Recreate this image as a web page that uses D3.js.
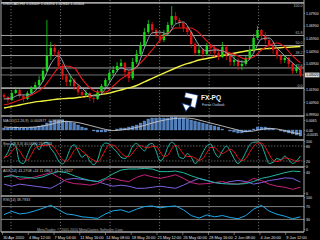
<!DOCTYPE html>
<html>
<head>
<meta charset="utf-8">
<script src="https://cdn.jsdelivr.net/npm/d3@7"></script>
<style>
  html, body { margin: 0; padding: 0; background: #000; }
  svg { display: block; font-family: "Liberation Sans", sans-serif; }
</style>
</head>
<body>
<svg id="chart"></svg>
<script>
// USDCAD H4 bars, oldest first (open = previous close)
var firstOpen = 1.0145;
var closes = [1.0129,1.0105,1.0160,1.0184,1.0137,1.0113,1.0160,1.0200,1.0223,1.0263,
  1.0334,1.0452,1.0515,1.0483,1.0373,1.0294,1.0247,1.0263,1.0215,1.0168,
  1.0145,1.0160,1.0121,1.0113,1.0168,1.0215,1.0263,1.0318,1.0341,1.0373,
  1.0397,1.0326,1.0278,1.0404,1.0467,1.0538,1.0640,1.0703,1.0656,1.0617,
  1.0577,1.0625,1.0696,1.0766,1.0735,1.0711,1.0672,1.0640,1.0546,1.0475,
  1.0499,1.0467,1.0530,1.0515,1.0475,1.0444,1.0522,1.0459,1.0404,1.0420,
  1.0373,1.0389,1.0436,1.0499,1.0593,1.0656,1.0609,1.0577,1.0530,1.0499,
  1.0452,1.0420,1.0436,1.0389,1.0334,1.0357,1.0302];
var highs = [1.0160,1.0137,1.0184,1.0208,1.0192,1.0145,1.0176,1.0215,1.0247,1.0294,
  1.0357,1.0735,1.0562,1.0546,1.0499,1.0389,1.0310,1.0294,1.0278,1.0231,
  1.0184,1.0184,1.0168,1.0145,1.0184,1.0231,1.0278,1.0341,1.0373,1.0404,
  1.0428,1.0404,1.0341,1.0436,1.0499,1.0562,1.0672,1.0735,1.0719,1.0672,
  1.0640,1.0656,1.0719,1.0845,1.0798,1.0751,1.0719,1.0688,1.0656,1.0562,
  1.0530,1.0515,1.0554,1.0546,1.0530,1.0499,1.0562,1.0538,1.0475,1.0452,
  1.0436,1.0420,1.0452,1.0530,1.0625,1.0688,1.0664,1.0640,1.0593,1.0562,
  1.0515,1.0467,1.0459,1.0444,1.0404,1.0381,1.0373];
var lows = [1.0105,1.0082,1.0097,1.0153,1.0121,1.0090,1.0105,1.0153,1.0184,1.0208,
  1.0247,1.0326,1.0420,1.0452,1.0357,1.0263,1.0215,1.0215,1.0184,1.0145,
  1.0121,1.0129,1.0097,1.0082,1.0105,1.0160,1.0200,1.0247,1.0294,1.0326,
  1.0357,1.0294,1.0247,1.0263,1.0389,1.0452,1.0522,1.0625,1.0625,1.0593,
  1.0554,1.0562,1.0609,1.0672,1.0703,1.0680,1.0640,1.0609,1.0515,1.0452,
  1.0452,1.0436,1.0452,1.0467,1.0444,1.0420,1.0436,1.0420,1.0373,1.0373,
  1.0341,1.0341,1.0373,1.0420,1.0483,1.0577,1.0577,1.0546,1.0499,1.0467,
  1.0428,1.0389,1.0397,1.0357,1.0310,1.0318,1.0286];

// moving averages, one value every 2 bars
var maFast = [1.0113,1.0121,1.0145,1.0145,1.0176,1.0255,1.0389,1.0452,1.0349,1.0255,
  1.0200,1.0145,1.0137,1.0192,1.0286,1.0357,1.0341,1.0365,1.0515,1.0633,
  1.0640,1.0625,1.0703,1.0719,1.0640,1.0538,1.0491,1.0499,1.0491,1.0459,
  1.0412,1.0404,1.0475,1.0585,1.0593,1.0515,1.0452,1.0397,1.0341];
var maMid = [1.0066,1.0082,1.0105,1.0129,1.0160,1.0200,1.0278,1.0357,1.0373,1.0357,
  1.0271,1.0200,1.0168,1.0168,1.0215,1.0271,1.0310,1.0365,1.0428,1.0499,
  1.0577,1.0633,1.0672,1.0672,1.0672,1.0633,1.0570,1.0515,1.0491,1.0475,
  1.0452,1.0428,1.0444,1.0499,1.0538,1.0554,1.0522,1.0452,1.0397];
var maSlow = [1.0042,1.0054,1.0066,1.0078,1.0090,1.0097,1.0105,1.0113,1.0117,1.0121,
  1.0129,1.0137,1.0145,1.0153,1.0168,1.0184,1.0200,1.0219,1.0247,1.0275,
  1.0302,1.0330,1.0357,1.0381,1.0400,1.0420,1.0432,1.0444,1.0456,1.0467,
  1.0479,1.0491,1.0499,1.0507,1.0511,1.0515,1.0519,1.0522,1.0526];

// fibonacci retracement
var fibLevels = [100, 61.8, 50, 38.2, 23.6, 0];
var fibHigh = 1.0869, fibLow = 1.0199;
var lastPrice = 1.0302;

// MACD histogram per bar, signal every 2 bars
var macdMain = [0.0010,0.0010,0.0010,0.0015,0.0010,0.0010,0.0010,0.0015,0.0015,0.0020,
  0.0025,0.0035,0.0045,0.0050,0.0050,0.0050,0.0045,0.0040,0.0035,0.0025,
  0.0015,0.0010,0.0000,-0.0005,-0.0010,-0.0010,-0.0010,-0.0005,0.0000,0.0005,
  0.0010,0.0010,0.0015,0.0020,0.0025,0.0035,0.0045,0.0055,0.0060,0.0060,
  0.0060,0.0060,0.0060,0.0065,0.0065,0.0060,0.0060,0.0055,0.0050,0.0045,
  0.0040,0.0035,0.0030,0.0025,0.0020,0.0015,0.0005,0.0000,-0.0005,-0.0010,
  -0.0015,-0.0015,-0.0010,-0.0005,0.0005,0.0015,0.0015,0.0015,0.0010,0.0005,
  0.0000,-0.0005,-0.0010,-0.0015,-0.0020,-0.0025,-0.0030];
var macdSignal = [0.0015,0.0013,0.0013,0.0013,0.0015,0.0020,0.0028,0.0038,0.0043,0.0040,
  0.0033,0.0023,0.0013,0.0003,-0.0003,0.0000,0.0005,0.0013,0.0023,0.0035,
  0.0045,0.0053,0.0058,0.0060,0.0058,0.0050,0.0040,0.0030,0.0020,0.0010,
  0.0000,-0.0008,-0.0005,0.0003,0.0008,0.0005,-0.0003,-0.0013,-0.0020];

// stochastic per bar
var stochMain = [30,55,88,80,15,10,45,80,92,65, 90,95,70,50,20,8,30,70,85,60,
  35,45,20,5,25,75,92,88,70,55, 35,30,45,80,90,75,60,85,90,60,
  20,35,75,95,80,35,30,50,35,10, 25,55,80,88,55,35,60,80,60,30,
  10,25,55,85,95,96,85,45,10,15, 30,25,40,25,10,20,40];
var stochSignal = [35,40,58,74,61,35,23,45,72,79, 82,83,85,72,47,26,19,36,62,72,
  60,47,33,23,17,35,64,85,83,71, 53,40,37,52,72,82,75,73,78,78,
  57,38,43,68,83,70,48,38,38,32, 23,30,53,74,74,59,50,58,67,57,
  33,22,30,55,78,92,92,75,47,23, 18,23,32,30,25,18,23];

// ADX, +DI, -DI every 2 bars
var adx = [31,33,31,30,28,31,37,41,39,33, 28,24,22,28,37,44,46,46,47,46,
  41,41,42,39,33,28,24,20,18,17, 17,18,22,28,31,35,39,42,41];
var plusDi = [31,35,26,28,31,35,39,30,22,18, 17,15,18,26,28,24,22,30,35,31,
  28,31,35,28,20,17,18,20,22,18, 17,20,28,24,17,13,11,7,11];
var minusDi = [17,13,17,15,13,11,9,17,26,28, 26,24,22,17,13,15,13,9,9,11,
  13,11,9,15,22,28,24,20,18,22, 24,22,17,20,24,26,29,28,21];

// RSI every 2 bars
var rsi = [45,55,47,50,57,65,74,60,47,44, 38,36,33,47,57,60,52,62,70,72,
  66,70,72,60,42,34,44,38,42,36, 32,42,62,74,56,46,40,32,38];

var priceTicks = [1.0790, 1.0690, 1.0590, 1.0490, 1.0390, 1.0190, 1.0090, 0.9990];
var timeLabels = ["30 Apr 2010", "4 May 12:00", "7 May 04:00", "11 May 16:00", "14 May 08:00",
  "18 May 20:00", "21 May 12:00", "26 May 00:00", "28 May 16:00", "2 Jun 08:00",
  "4 Jun 20:00", "9 Jun 12:00"];
var timeLabelBars = [-0.5, 6.1, 12.7, 19.3, 25.9, 32.5, 39.1, 45.7, 52.3, 58.9, 65.5, 72.1];
var weekBars = [1.8, 14.5, 27.2, 39.9, 52.6, 65.3];

var width = 320, height = 240;
var axisX = 304;
var frameColor = "#a8a8a8";

var svg = d3.select("#chart")
  .attr("width", width)
  .attr("height", height)
  .style("background", "#000");

var x = d3.scaleLinear().domain([0, closes.length - 1]).range([4, 300.4]);
var yMain = d3.scaleLinear().domain([0.9990, 1.0790]).range([114.6, 13]);
var yMacd = d3.scaleLinear().domain([-0.0045, 0.0070]).range([139, 116]);
var yStoch = d3.scaleLinear().domain([0, 100]).range([166, 141]);
var yAdx = d3.scaleLinear().domain([0, 46]).range([193, 169]);
var yRsi = d3.scaleLinear().domain([0, 100]).range([229, 197]);

var panels = [["main", 0, 116], ["macd", 116, 140], ["stoch", 140, 167], ["adx", 167, 196], ["rsi", 196, 232]];
var defs = svg.append("defs");
panels.forEach(function (p) {
  defs.append("clipPath").attr("id", "clip-" + p[0])
    .append("rect").attr("x", 1).attr("y", p[1]).attr("width", axisX - 1).attr("height", p[2] - p[1]);
});
function panel(name) {
  return svg.append("g").attr("clip-path", "url(#clip-" + name + ")");
}

// weekly dotted grid
svg.append("g").selectAll("line")
  .data(weekBars)
  .enter().append("line")
  .attr("x1", function (d) { return x(d); })
  .attr("x2", function (d) { return x(d); })
  .attr("y1", 0).attr("y2", 232)
  .attr("stroke", "#9a9a9a")
  .attr("stroke-width", 0.7)
  .attr("stroke-dasharray", "1.2,1.8");

// ---------- main panel ----------
var main = panel("main");

main.selectAll(".fib")
  .data(fibLevels)
  .enter().append("line")
  .attr("x1", 1).attr("x2", axisX)
  .attr("y1", function (d) { return yMain(fibLow + (fibHigh - fibLow) * d / 100); })
  .attr("y2", function (d) { return yMain(fibLow + (fibHigh - fibLow) * d / 100); })
  .attr("stroke", "#a0a0a0")
  .attr("stroke-width", function (d) { return (d == 0 || d == 100) ? 1.8 : 1; });

main.append("line")
  .attr("x1", 1).attr("x2", axisX)
  .attr("y1", yMain(lastPrice)).attr("y2", yMain(lastPrice))
  .attr("stroke", "#8c8c8c").attr("stroke-width", 0.8);

main.selectAll(".fibLabel")
  .data(fibLevels)
  .enter().append("text")
  .attr("x", 302.5)
  .attr("y", function (d) { return Math.max(7.2, yMain(fibLow + (fibHigh - fibLow) * d / 100) - 1.3); })
  .attr("text-anchor", "end")
  .style("font-size", "3.6px")
  .style("fill", "#b8b8b8")
  .text(function (d) { return d3.format(".1f")(d); });

var line2 = function (y) {
  return d3.line()
    .x(function (d, i) { return x(i * 2); })
    .y(function (d) { return y(d); });
};

main.append("path").datum(maSlow)
  .attr("fill", "none").attr("stroke", "#f0f040").attr("stroke-width", 1.4)
  .attr("d", line2(yMain).curve(d3.curveMonotoneX));

var bars = closes.map(function (c, i) {
  return { i: i, open: i ? closes[i - 1] : firstOpen, close: c, high: highs[i], low: lows[i] };
});

var candle = main.selectAll(".candle")
  .data(bars)
  .enter().append("g")
  .attr("class", "candle");

candle.append("line")
  .attr("x1", function (d) { return x(d.i); })
  .attr("x2", function (d) { return x(d.i); })
  .attr("y1", function (d) { return yMain(d.high); })
  .attr("y2", function (d) { return yMain(d.low); })
  .attr("stroke", function (d) { return d.close >= d.open ? "#18d818" : "#e01010"; })
  .attr("stroke-width", 0.8);

candle.append("rect")
  .attr("x", function (d) { return x(d.i) - 1.2; })
  .attr("width", 2.4)
  .attr("y", function (d) { return yMain(Math.max(d.open, d.close)); })
  .attr("height", function (d) { return Math.max(0.7, Math.abs(yMain(d.open) - yMain(d.close))); })
  .attr("fill", function (d) { return d.close >= d.open ? "#18d818" : "#e01010"; });

main.append("path").datum(maMid)
  .attr("fill", "none").attr("stroke", "#e81818").attr("stroke-width", 1.1)
  .attr("d", line2(yMain).curve(d3.curveMonotoneX));

main.append("path").datum(maFast)
  .attr("fill", "none").attr("stroke", "#90a8b0").attr("stroke-width", 1)
  .attr("d", line2(yMain).curve(d3.curveMonotoneX));

svg.append("text")
  .attr("x", 3).attr("y", 5.4)
  .style("font-size", "3.8px")
  .style("fill", "#e8e8e8")
  .text("USDCAD,H4  1.03009 1.03094 1.02846 1.03004");

// logo
var logo = svg.append("g");
logo.append("path")
  .attr("d", "M186,93 L197.5,95.5 L195,107.5 L191,106 L192.5,98.5 L185,97 Z M183,104 L189.5,106 L186,110.5 Z")
  .attr("fill", "#ffffff")
  .attr("stroke", "#2f6fd8")
  .attr("stroke-width", 1.6)
  .attr("stroke-opacity", 0.7)
  .attr("paint-order", "stroke");
logo.append("text")
  .attr("x", 201).attr("y", 99.5)
  .style("font-size", "6.6px").style("font-weight", "bold")
  .style("fill", "#eef2fa")
  .text("FX-PQ");
logo.append("text")
  .attr("x", 202).attr("y", 105.5)
  .style("font-size", "3.6px")
  .style("fill", "#c8d4e8")
  .text("Forex Outlook");

// ---------- MACD ----------
var macd = panel("macd");
macd.selectAll("rect")
  .data(macdMain)
  .enter().append("rect")
  .attr("x", function (d, i) { return x(i) - 1.4; })
  .attr("width", 2.8)
  .attr("y", function (d) { return Math.min(yMacd(d), yMacd(0)); })
  .attr("height", function (d) { return Math.abs(yMacd(d) - yMacd(0)); })
  .attr("fill", "#4f7fc0")
  .attr("stroke", "#7aa2d8")
  .attr("stroke-width", 0.3);
macd.append("path").datum(macdSignal)
  .attr("fill", "none").attr("stroke", "#c8c8c8").attr("stroke-width", 0.9)
  .attr("d", line2(yMacd).curve(d3.curveMonotoneX));

// ---------- Stochastic ----------
var stoch = panel("stoch");
stoch.selectAll(".lvl")
  .data([80, 20])
  .enter().append("line")
  .attr("x1", 1).attr("x2", axisX)
  .attr("y1", function (d) { return yStoch(d); })
  .attr("y2", function (d) { return yStoch(d); })
  .attr("stroke", "#9a9a9a").attr("stroke-width", 0.6)
  .attr("stroke-dasharray", "1.5,1.5");
var line1 = function (y) {
  return d3.line()
    .x(function (d, i) { return x(i); })
    .y(function (d) { return y(d); })
    .curve(d3.curveMonotoneX);
};
stoch.append("path").datum(stochMain)
  .attr("fill", "none").attr("stroke", "#20b8a8").attr("stroke-width", 1)
  .attr("d", line1(yStoch));
stoch.append("path").datum(stochSignal)
  .attr("fill", "none").attr("stroke", "#e81818").attr("stroke-width", 1)
  .attr("d", line1(yStoch));

// ---------- ADX ----------
var adxG = panel("adx");
adxG.append("path").datum(minusDi)
  .attr("fill", "none").attr("stroke", "#8060e0").attr("stroke-width", 1)
  .attr("d", line2(yAdx));
adxG.append("path").datum(plusDi)
  .attr("fill", "none").attr("stroke", "#c8207a").attr("stroke-width", 1)
  .attr("d", line2(yAdx));
adxG.append("path").datum(adx)
  .attr("fill", "none").attr("stroke", "#20b8a0").attr("stroke-width", 1)
  .attr("d", line2(yAdx));

// ---------- RSI ----------
var rsiG = panel("rsi");
rsiG.selectAll(".lvl")
  .data([70, 30])
  .enter().append("line")
  .attr("x1", 1).attr("x2", axisX)
  .attr("y1", function (d) { return yRsi(d); })
  .attr("y2", function (d) { return yRsi(d); })
  .attr("stroke", "#a0a0a0").attr("stroke-width", 0.8);
rsiG.append("path").datum(rsi)
  .attr("fill", "none").attr("stroke", "#1ea8e8").attr("stroke-width", 1)
  .attr("d", line2(yRsi));

svg.append("text")
  .attr("x", 37).attr("y", 230.5)
  .style("font-size", "3.6px")
  .style("fill", "#a8a8a8")
  .text("MetaTrader, \u00a9 2001-2010 MetaQuotes Software Corp.");

// indicator titles
var titles = [
  [121.5, "MACD(12,26,9) -0.000977 -0.000263"],
  [145, "Stoch(8,3,3) 40.0000 23.3333"],
  [171.5, "ADX(14) 41.2708 +DI 11.0863 -DI 21.0327"],
  [200.5, "RSI(14) 38.7933"]
];
svg.selectAll(".title")
  .data(titles)
  .enter().append("text")
  .attr("x", 3).attr("y", function (d) { return d[0]; })
  .style("font-size", "3.7px")
  .style("fill", "#c8c8c8")
  .text(function (d) { return d[1]; });

// frame and separators
svg.selectAll(".sep")
  .data([116, 140, 167, 196, 232])
  .enter().append("line")
  .attr("x1", 1).attr("x2", axisX)
  .attr("y1", function (d) { return d; }).attr("y2", function (d) { return d; })
  .attr("stroke", frameColor).attr("stroke-width", 1.3);
svg.append("line")
  .attr("x1", axisX).attr("x2", axisX).attr("y1", 0).attr("y2", 232)
  .attr("stroke", frameColor).attr("stroke-width", 1);
svg.append("line")
  .attr("x1", 1).attr("x2", 1).attr("y1", 0).attr("y2", 232)
  .attr("stroke", frameColor).attr("stroke-width", 1);

// right axes
function styleAxis(g) {
  g.selectAll("path").remove();
  g.selectAll("line").attr("stroke", frameColor).attr("stroke-width", 0.6);
  g.selectAll("text").style("font-size", "3.5px").style("fill", "#e0e0e0")
    .style("font-family", "Liberation Sans, sans-serif");
}
svg.append("g").attr("transform", "translate(" + axisX + ",0)")
  .call(d3.axisRight(yMain).tickValues(priceTicks).tickFormat(d3.format(".5f")).tickSize(1.2).tickPadding(0.8))
  .call(styleAxis);

var tag = svg.append("g").attr("transform", "translate(" + axisX + "," + yMain(lastPrice) + ")");
tag.append("rect").attr("x", 1).attr("y", -2.4).attr("width", 14.5).attr("height", 4.8).attr("fill", "#d8d8d8");
tag.append("text").attr("x", 2).attr("y", 1.2).style("font-size", "3.5px").style("fill", "#000")
  .text(d3.format(".5f")(lastPrice));

svg.append("g").attr("transform", "translate(" + axisX + ",0)")
  .call(d3.axisRight(yMacd).tickValues([0.0050, 0, -0.0020]).tickFormat(function (d, i) {
    return ["0.0065", "0.00", "-0.0035"][i];
  }).tickSize(1.2).tickPadding(0.8))
  .call(styleAxis);
svg.append("g").attr("transform", "translate(" + axisX + ",0)")
  .call(d3.axisRight(yStoch).tickValues([100, 80, 20, 0]).tickSize(1.2).tickPadding(0.8))
  .call(styleAxis);
svg.append("g").attr("transform", "translate(" + axisX + ",0)")
  .call(d3.axisRight(yAdx).tickValues([40, 0]).tickSize(1.2).tickPadding(0.8))
  .call(styleAxis);
svg.append("g").attr("transform", "translate(" + axisX + ",0)")
  .call(d3.axisRight(yRsi).tickValues([100, 70, 30, 0]).tickSize(1.2).tickPadding(0.8))
  .call(styleAxis);

// time axis
var timeAxis = svg.append("g").attr("transform", "translate(0,232)")
  .call(d3.axisBottom(x).tickValues(timeLabelBars)
    .tickFormat(function (d, i) { return timeLabels[i]; })
    .tickSize(3).tickPadding(1.2))
  .call(styleAxis);
timeAxis.selectAll("text").attr("text-anchor", "start").attr("dx", "0.6").style("font-size", "3.9px");
</script>
</body>
</html>
